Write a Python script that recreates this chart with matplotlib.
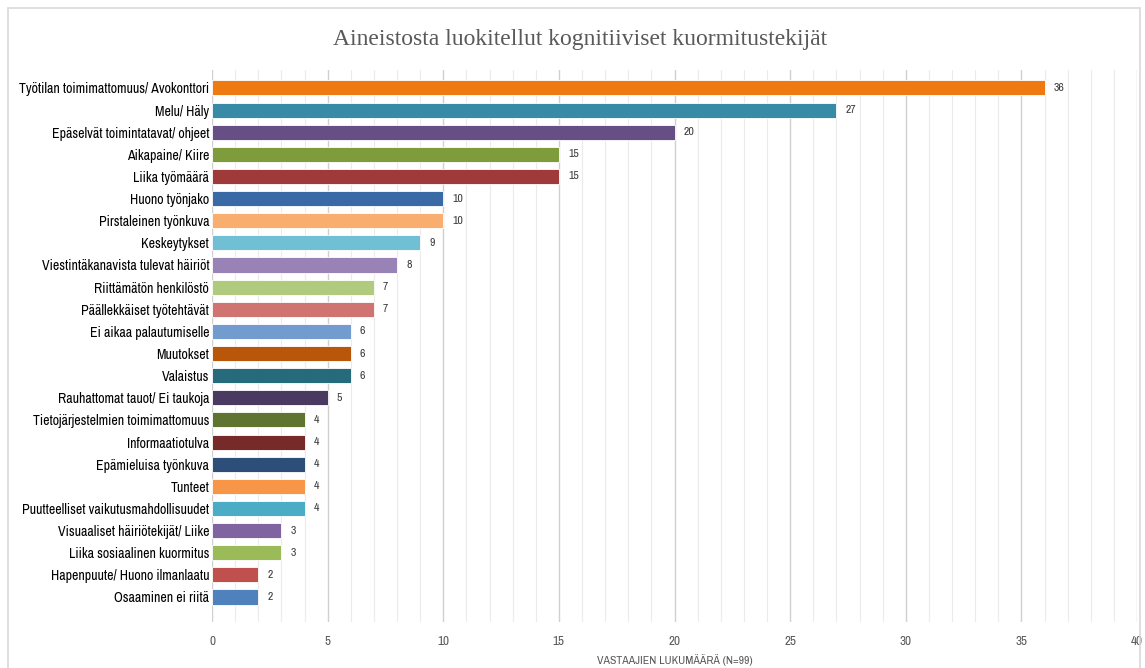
import matplotlib
matplotlib.use("Agg")
import matplotlib.pyplot as plt
from matplotlib.patches import Rectangle
from matplotlib.ticker import MultipleLocator

categories = [
    "Työtilan toimimattomuus/ Avokonttori",
    "Melu/ Häly",
    "Epäselvät toimintatavat/ ohjeet",
    "Aikapaine/ Kiire",
    "Liika työmäärä",
    "Huono työnjako",
    "Pirstaleinen työnkuva",
    "Keskeytykset",
    "Viestintäkanavista tulevat häiriöt",
    "Riittämätön henkilöstö",
    "Päällekkäiset työtehtävät",
    "Ei aikaa palautumiselle",
    "Muutokset",
    "Valaistus",
    "Rauhattomat tauot/ Ei taukoja",
    "Tietojärjestelmien toimimattomuus",
    "Informaatiotulva",
    "Epämieluisa työnkuva",
    "Tunteet",
    "Puutteelliset vaikutusmahdollisuudet",
    "Visuaaliset häiriötekijät/ Liike",
    "Liika sosiaalinen kuormitus",
    "Hapenpuute/ Huono ilmanlaatu",
    "Osaaminen ei riitä",
]
values = [36, 27, 20, 15, 15, 10, 10, 9, 8, 7, 7, 6, 6, 6, 5, 4, 4, 4, 4, 4, 3, 3, 2, 2]
colors = [
    "#F07A12", "#378BA6", "#664F85", "#7E9C3C", "#9E3B3A", "#3A6AA5",
    "#F9AD6E", "#70BFD4", "#9983B6", "#B0CB7D", "#CF7470", "#729CCF",
    "#B8570A", "#256B7C", "#4A3960", "#5E7430", "#772A2A", "#2D4E78",
    "#F79646", "#4BACC6", "#8064A2", "#9BBB59", "#C0504D", "#4F81BD",
]
title = "Aineistosta luokitellut kognitiiviset kuormitustekijät"
xlabel = "VASTAAJIEN LUKUMÄÄRÄ (N=99)"

label_font = ["Archivo Narrow", "Liberation Sans", "DejaVu Sans"]

fig = plt.figure(figsize=(11.45, 6.68), dpi=100)
fig.patches.append(Rectangle((8 / 1145, -0.01), 1132 / 1145, 1 - 8 / 668 + 0.01,
                             transform=fig.transFigure, fill=False,
                             edgecolor="#D9D9D9", linewidth=1.2))
ax = fig.add_axes([212 / 1145, 1 - 622 / 668, (1137 - 212) / 1145, (622 - 70) / 668])

pos = list(range(len(categories)))
ax.barh(pos, values, height=0.68, color=colors, edgecolor="white", linewidth=0.6, zorder=3)
for p, v in zip(pos, values):
    ax.text(v + 0.4, p, str(v), va="center", ha="left", fontsize=8.5,
            color="#3A3A3A", family=label_font)

ax.set_xlim(0, 40)
ax.set_ylim(len(categories) - 1 + 1.13, -0.81)
ax.set_yticks(pos)
ax.set_yticklabels(categories, family=label_font, fontsize=10, color="black")
ax.xaxis.set_major_locator(MultipleLocator(5))
ax.xaxis.set_minor_locator(MultipleLocator(1))
ax.grid(axis="x", which="major", color="#D0D0D0", linewidth=1.0, zorder=0)
ax.grid(axis="x", which="minor", color="#EBEBEB", linewidth=0.8, zorder=0)
ax.tick_params(axis="both", which="both", length=0)
ax.tick_params(axis="y", pad=2)
ax.tick_params(axis="x", pad=10, labelcolor="#595959", labelsize=9.5)
for lbl in ax.get_xticklabels():
    lbl.set_family(label_font)
for s in ax.spines.values():
    s.set_visible(False)

ax.set_xlabel(xlabel, family=label_font, fontsize=8.5, color="#595959")
ax.xaxis.set_label_coords(0.5, -0.058)
fig.text(580 / 1145, 1 - 40 / 668, title, ha="center", va="center",
         family=["Liberation Serif", "DejaVu Serif"], fontsize=17, color="#595959")

fig.savefig("out.png", dpi=100)
